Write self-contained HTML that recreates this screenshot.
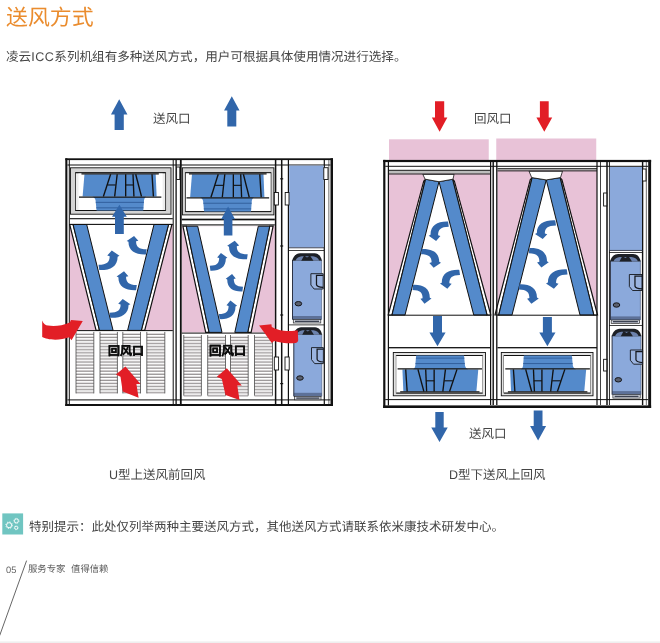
<!DOCTYPE html>
<html lang="zh-CN"><head><meta charset="utf-8"><title>送风方式</title>
<style>
html,body{margin:0;padding:0;background:#fff}
body{width:660px;height:643px;position:relative;overflow:hidden;font-family:"Liberation Sans",sans-serif;color:#454545;text-rendering:geometricPrecision}
.t{position:absolute;white-space:nowrap;line-height:1;margin:0;will-change:transform}
svg{position:absolute;left:0;top:0}
.lb{font-weight:bold;color:#0c0c0c;-webkit-text-stroke:0.3px #0c0c0c}
</style></head><body>
<svg width="660" height="643" viewBox="0 0 660 643">
<rect x="66" y="159" width="266" height="246" fill="#ffffff"/>
<rect x="69.8" y="224.5" width="103" height="105.9" fill="#e8c2d7"/>
<polygon points="86.7,224.5 154,224.5 127.6,330.4 113.1,330.4" fill="#ffffff"/>
<polygon points="69.7,224.5 73.1,224.5 99.5,330.4 96.1,330.4" fill="#ffffff" stroke="#111111" stroke-width="1.2"/>
<polygon points="171.9,224.5 168.5,224.5 141.3,330.4 144.7,330.4" fill="#ffffff" stroke="#111111" stroke-width="1.2"/>
<polygon points="73.1,224.5 86.7,224.5 113.1,330.4 99.5,330.4" fill="#548acb" stroke="#111111" stroke-width="1"/>
<polygon points="154,224.5 168.5,224.5 141.3,330.4 127.6,330.4" fill="#548acb" stroke="#111111" stroke-width="1"/>
<rect x="181.7" y="226.2" width="93.1" height="106.2" fill="#e8c2d7"/>
<polygon points="197.7,226.2 258.3,226.2 234.8,332.4 222,332.4" fill="#ffffff"/>
<polygon points="182.9,226.2 186.3,226.2 209.1,332.4 205.7,332.4" fill="#ffffff" stroke="#111111" stroke-width="1.2"/>
<polygon points="273.1,226.2 269.7,226.2 247.7,332.4 251.1,332.4" fill="#ffffff" stroke="#111111" stroke-width="1.2"/>
<polygon points="186.3,226.2 197.7,226.2 222,332.4 209.1,332.4" fill="#548acb" stroke="#111111" stroke-width="1"/>
<polygon points="258.3,226.2 269.7,226.2 247.7,332.4 234.8,332.4" fill="#548acb" stroke="#111111" stroke-width="1"/>
<rect x="76" y="331.9" width="17.8" height="61.5" fill="#fefefe"/>
<path d="M76,333.65 H93.8 M76,336.72 H93.8 M76,339.79 H93.8 M76,342.86 H93.8 M76,345.93 H93.8 M76,349 H93.8 M76,352.07 H93.8 M76,355.14 H93.8 M76,358.21 H93.8 M76,361.28 H93.8 M76,364.35 H93.8 M76,367.42 H93.8 M76,370.49 H93.8 M76,373.56 H93.8 M76,376.63 H93.8 M76,379.7 H93.8 M76,382.77 H93.8 M76,385.84 H93.8 M76,388.91 H93.8 M76,391.98 H93.8" fill="none" stroke="#d4d0d1" stroke-width="0.9"/>
<path d="M76,334.5 H93.8 M76,337.57 H93.8 M76,340.64 H93.8 M76,343.71 H93.8 M76,346.78 H93.8 M76,349.85 H93.8 M76,352.92 H93.8 M76,355.99 H93.8 M76,359.06 H93.8 M76,362.13 H93.8 M76,365.2 H93.8 M76,368.27 H93.8 M76,371.34 H93.8 M76,374.41 H93.8 M76,377.48 H93.8 M76,380.55 H93.8 M76,383.62 H93.8 M76,386.69 H93.8 M76,389.76 H93.8 M76,392.83 H93.8" fill="none" stroke="#7d797a" stroke-width="0.8"/>
<line x1="76" y1="331.9" x2="76" y2="393.4" stroke="#4a4a4a" stroke-width="0.8"/>
<line x1="93.8" y1="331.9" x2="93.8" y2="393.4" stroke="#4a4a4a" stroke-width="0.8"/>
<rect x="100" y="331.9" width="17.4" height="61.5" fill="#fefefe"/>
<path d="M100,333.65 H117.4 M100,336.72 H117.4 M100,339.79 H117.4 M100,342.86 H117.4 M100,345.93 H117.4 M100,349 H117.4 M100,352.07 H117.4 M100,355.14 H117.4 M100,358.21 H117.4 M100,361.28 H117.4 M100,364.35 H117.4 M100,367.42 H117.4 M100,370.49 H117.4 M100,373.56 H117.4 M100,376.63 H117.4 M100,379.7 H117.4 M100,382.77 H117.4 M100,385.84 H117.4 M100,388.91 H117.4 M100,391.98 H117.4" fill="none" stroke="#d4d0d1" stroke-width="0.9"/>
<path d="M100,334.5 H117.4 M100,337.57 H117.4 M100,340.64 H117.4 M100,343.71 H117.4 M100,346.78 H117.4 M100,349.85 H117.4 M100,352.92 H117.4 M100,355.99 H117.4 M100,359.06 H117.4 M100,362.13 H117.4 M100,365.2 H117.4 M100,368.27 H117.4 M100,371.34 H117.4 M100,374.41 H117.4 M100,377.48 H117.4 M100,380.55 H117.4 M100,383.62 H117.4 M100,386.69 H117.4 M100,389.76 H117.4 M100,392.83 H117.4" fill="none" stroke="#7d797a" stroke-width="0.8"/>
<line x1="100" y1="331.9" x2="100" y2="393.4" stroke="#4a4a4a" stroke-width="0.8"/>
<line x1="117.4" y1="331.9" x2="117.4" y2="393.4" stroke="#4a4a4a" stroke-width="0.8"/>
<rect x="122.8" y="331.9" width="17.7" height="61.5" fill="#fefefe"/>
<path d="M122.8,333.65 H140.5 M122.8,336.72 H140.5 M122.8,339.79 H140.5 M122.8,342.86 H140.5 M122.8,345.93 H140.5 M122.8,349 H140.5 M122.8,352.07 H140.5 M122.8,355.14 H140.5 M122.8,358.21 H140.5 M122.8,361.28 H140.5 M122.8,364.35 H140.5 M122.8,367.42 H140.5 M122.8,370.49 H140.5 M122.8,373.56 H140.5 M122.8,376.63 H140.5 M122.8,379.7 H140.5 M122.8,382.77 H140.5 M122.8,385.84 H140.5 M122.8,388.91 H140.5 M122.8,391.98 H140.5" fill="none" stroke="#d4d0d1" stroke-width="0.9"/>
<path d="M122.8,334.5 H140.5 M122.8,337.57 H140.5 M122.8,340.64 H140.5 M122.8,343.71 H140.5 M122.8,346.78 H140.5 M122.8,349.85 H140.5 M122.8,352.92 H140.5 M122.8,355.99 H140.5 M122.8,359.06 H140.5 M122.8,362.13 H140.5 M122.8,365.2 H140.5 M122.8,368.27 H140.5 M122.8,371.34 H140.5 M122.8,374.41 H140.5 M122.8,377.48 H140.5 M122.8,380.55 H140.5 M122.8,383.62 H140.5 M122.8,386.69 H140.5 M122.8,389.76 H140.5 M122.8,392.83 H140.5" fill="none" stroke="#7d797a" stroke-width="0.8"/>
<line x1="122.8" y1="331.9" x2="122.8" y2="393.4" stroke="#4a4a4a" stroke-width="0.8"/>
<line x1="140.5" y1="331.9" x2="140.5" y2="393.4" stroke="#4a4a4a" stroke-width="0.8"/>
<rect x="146.8" y="331.9" width="18" height="61.5" fill="#fefefe"/>
<path d="M146.8,333.65 H164.8 M146.8,336.72 H164.8 M146.8,339.79 H164.8 M146.8,342.86 H164.8 M146.8,345.93 H164.8 M146.8,349 H164.8 M146.8,352.07 H164.8 M146.8,355.14 H164.8 M146.8,358.21 H164.8 M146.8,361.28 H164.8 M146.8,364.35 H164.8 M146.8,367.42 H164.8 M146.8,370.49 H164.8 M146.8,373.56 H164.8 M146.8,376.63 H164.8 M146.8,379.7 H164.8 M146.8,382.77 H164.8 M146.8,385.84 H164.8 M146.8,388.91 H164.8 M146.8,391.98 H164.8" fill="none" stroke="#d4d0d1" stroke-width="0.9"/>
<path d="M146.8,334.5 H164.8 M146.8,337.57 H164.8 M146.8,340.64 H164.8 M146.8,343.71 H164.8 M146.8,346.78 H164.8 M146.8,349.85 H164.8 M146.8,352.92 H164.8 M146.8,355.99 H164.8 M146.8,359.06 H164.8 M146.8,362.13 H164.8 M146.8,365.2 H164.8 M146.8,368.27 H164.8 M146.8,371.34 H164.8 M146.8,374.41 H164.8 M146.8,377.48 H164.8 M146.8,380.55 H164.8 M146.8,383.62 H164.8 M146.8,386.69 H164.8 M146.8,389.76 H164.8 M146.8,392.83 H164.8" fill="none" stroke="#7d797a" stroke-width="0.8"/>
<line x1="146.8" y1="331.9" x2="146.8" y2="393.4" stroke="#4a4a4a" stroke-width="0.8"/>
<line x1="164.8" y1="331.9" x2="164.8" y2="393.4" stroke="#4a4a4a" stroke-width="0.8"/>
<rect x="183.75" y="335" width="17.65" height="60.6" fill="#fefefe"/>
<path d="M183.75,336.75 H201.4 M183.75,339.82 H201.4 M183.75,342.89 H201.4 M183.75,345.96 H201.4 M183.75,349.03 H201.4 M183.75,352.1 H201.4 M183.75,355.17 H201.4 M183.75,358.24 H201.4 M183.75,361.31 H201.4 M183.75,364.38 H201.4 M183.75,367.45 H201.4 M183.75,370.52 H201.4 M183.75,373.59 H201.4 M183.75,376.66 H201.4 M183.75,379.73 H201.4 M183.75,382.8 H201.4 M183.75,385.87 H201.4 M183.75,388.94 H201.4 M183.75,392.01 H201.4 M183.75,395.08 H201.4" fill="none" stroke="#d4d0d1" stroke-width="0.9"/>
<path d="M183.75,337.6 H201.4 M183.75,340.67 H201.4 M183.75,343.74 H201.4 M183.75,346.81 H201.4 M183.75,349.88 H201.4 M183.75,352.95 H201.4 M183.75,356.02 H201.4 M183.75,359.09 H201.4 M183.75,362.16 H201.4 M183.75,365.23 H201.4 M183.75,368.3 H201.4 M183.75,371.37 H201.4 M183.75,374.44 H201.4 M183.75,377.51 H201.4 M183.75,380.58 H201.4 M183.75,383.65 H201.4 M183.75,386.72 H201.4 M183.75,389.79 H201.4 M183.75,392.86 H201.4 M183.75,395.93 H201.4" fill="none" stroke="#7d797a" stroke-width="0.8"/>
<line x1="183.75" y1="335" x2="183.75" y2="395.6" stroke="#4a4a4a" stroke-width="0.8"/>
<line x1="201.4" y1="335" x2="201.4" y2="395.6" stroke="#4a4a4a" stroke-width="0.8"/>
<rect x="207.7" y="335" width="17.8" height="60.6" fill="#fefefe"/>
<path d="M207.7,336.75 H225.5 M207.7,339.82 H225.5 M207.7,342.89 H225.5 M207.7,345.96 H225.5 M207.7,349.03 H225.5 M207.7,352.1 H225.5 M207.7,355.17 H225.5 M207.7,358.24 H225.5 M207.7,361.31 H225.5 M207.7,364.38 H225.5 M207.7,367.45 H225.5 M207.7,370.52 H225.5 M207.7,373.59 H225.5 M207.7,376.66 H225.5 M207.7,379.73 H225.5 M207.7,382.8 H225.5 M207.7,385.87 H225.5 M207.7,388.94 H225.5 M207.7,392.01 H225.5 M207.7,395.08 H225.5" fill="none" stroke="#d4d0d1" stroke-width="0.9"/>
<path d="M207.7,337.6 H225.5 M207.7,340.67 H225.5 M207.7,343.74 H225.5 M207.7,346.81 H225.5 M207.7,349.88 H225.5 M207.7,352.95 H225.5 M207.7,356.02 H225.5 M207.7,359.09 H225.5 M207.7,362.16 H225.5 M207.7,365.23 H225.5 M207.7,368.3 H225.5 M207.7,371.37 H225.5 M207.7,374.44 H225.5 M207.7,377.51 H225.5 M207.7,380.58 H225.5 M207.7,383.65 H225.5 M207.7,386.72 H225.5 M207.7,389.79 H225.5 M207.7,392.86 H225.5 M207.7,395.93 H225.5" fill="none" stroke="#7d797a" stroke-width="0.8"/>
<line x1="207.7" y1="335" x2="207.7" y2="395.6" stroke="#4a4a4a" stroke-width="0.8"/>
<line x1="225.5" y1="335" x2="225.5" y2="395.6" stroke="#4a4a4a" stroke-width="0.8"/>
<rect x="230.5" y="335" width="17.7" height="60.6" fill="#fefefe"/>
<path d="M230.5,336.75 H248.2 M230.5,339.82 H248.2 M230.5,342.89 H248.2 M230.5,345.96 H248.2 M230.5,349.03 H248.2 M230.5,352.1 H248.2 M230.5,355.17 H248.2 M230.5,358.24 H248.2 M230.5,361.31 H248.2 M230.5,364.38 H248.2 M230.5,367.45 H248.2 M230.5,370.52 H248.2 M230.5,373.59 H248.2 M230.5,376.66 H248.2 M230.5,379.73 H248.2 M230.5,382.8 H248.2 M230.5,385.87 H248.2 M230.5,388.94 H248.2 M230.5,392.01 H248.2 M230.5,395.08 H248.2" fill="none" stroke="#d4d0d1" stroke-width="0.9"/>
<path d="M230.5,337.6 H248.2 M230.5,340.67 H248.2 M230.5,343.74 H248.2 M230.5,346.81 H248.2 M230.5,349.88 H248.2 M230.5,352.95 H248.2 M230.5,356.02 H248.2 M230.5,359.09 H248.2 M230.5,362.16 H248.2 M230.5,365.23 H248.2 M230.5,368.3 H248.2 M230.5,371.37 H248.2 M230.5,374.44 H248.2 M230.5,377.51 H248.2 M230.5,380.58 H248.2 M230.5,383.65 H248.2 M230.5,386.72 H248.2 M230.5,389.79 H248.2 M230.5,392.86 H248.2 M230.5,395.93 H248.2" fill="none" stroke="#7d797a" stroke-width="0.8"/>
<line x1="230.5" y1="335" x2="230.5" y2="395.6" stroke="#4a4a4a" stroke-width="0.8"/>
<line x1="248.2" y1="335" x2="248.2" y2="395.6" stroke="#4a4a4a" stroke-width="0.8"/>
<rect x="254.5" y="335" width="18" height="60.6" fill="#fefefe"/>
<path d="M254.5,336.75 H272.5 M254.5,339.82 H272.5 M254.5,342.89 H272.5 M254.5,345.96 H272.5 M254.5,349.03 H272.5 M254.5,352.1 H272.5 M254.5,355.17 H272.5 M254.5,358.24 H272.5 M254.5,361.31 H272.5 M254.5,364.38 H272.5 M254.5,367.45 H272.5 M254.5,370.52 H272.5 M254.5,373.59 H272.5 M254.5,376.66 H272.5 M254.5,379.73 H272.5 M254.5,382.8 H272.5 M254.5,385.87 H272.5 M254.5,388.94 H272.5 M254.5,392.01 H272.5 M254.5,395.08 H272.5" fill="none" stroke="#d4d0d1" stroke-width="0.9"/>
<path d="M254.5,337.6 H272.5 M254.5,340.67 H272.5 M254.5,343.74 H272.5 M254.5,346.81 H272.5 M254.5,349.88 H272.5 M254.5,352.95 H272.5 M254.5,356.02 H272.5 M254.5,359.09 H272.5 M254.5,362.16 H272.5 M254.5,365.23 H272.5 M254.5,368.3 H272.5 M254.5,371.37 H272.5 M254.5,374.44 H272.5 M254.5,377.51 H272.5 M254.5,380.58 H272.5 M254.5,383.65 H272.5 M254.5,386.72 H272.5 M254.5,389.79 H272.5 M254.5,392.86 H272.5 M254.5,395.93 H272.5" fill="none" stroke="#7d797a" stroke-width="0.8"/>
<line x1="254.5" y1="335" x2="254.5" y2="395.6" stroke="#4a4a4a" stroke-width="0.8"/>
<line x1="272.5" y1="335" x2="272.5" y2="395.6" stroke="#4a4a4a" stroke-width="0.8"/>
<rect x="69.8" y="330.1" width="103" height="1" fill="#111111"/>
<rect x="181.7" y="332.6" width="93.1" height="1" fill="#111111"/>
<rect x="70.5" y="167.8" width="100.5" height="46.4" fill="#d4d4d4" stroke="#111111" stroke-width="0.9"/>
<rect x="75.5" y="172.7" width="90.1" height="37.8" fill="#ededed" stroke="#333" stroke-width="0.9"/>
<rect x="78.5" y="172.7" width="84.1" height="37.8" fill="#ffffff"/>
<line x1="75.5" y1="172.7" x2="165.6" y2="172.7" stroke="#111111" stroke-width="1"/>
<line x1="75.5" y1="210.5" x2="165.6" y2="210.5" stroke="#111111" stroke-width="1"/>
<polygon points="84.47,174.21 155.7,174.21 156.63,196.51 82.62,196.51" fill="#548acb"/>
<path d="M92.38,196.51 L146.2,196.51 C144.52,197.65 143.93,199.16 143.93,202.18 L143.26,210.5 L96.58,210.5 L95.74,202.18 C95.74,199.16 94.9,197.65 92.38,196.51 Z" fill="#548acb"/>
<line x1="95.74" y1="202.37" x2="143.93" y2="202.37" stroke="#2a5592" stroke-width="0.8"/>
<line x1="96.16" y1="207.85" x2="143.43" y2="207.85" stroke="#2a5592" stroke-width="0.8"/>
<line x1="79" y1="197.08" x2="161.34" y2="197.08" stroke="#111111" stroke-width="1.2"/>
<line x1="81.44" y1="173.83" x2="158.82" y2="173.83" stroke="#111111" stroke-width="1.2"/>
<line x1="110.63" y1="174.21" x2="103.39" y2="196.51" stroke="#111111" stroke-width="1.35"/>
<line x1="117.19" y1="174.21" x2="114.66" y2="196.51" stroke="#111111" stroke-width="1.35"/>
<line x1="125.68" y1="174.21" x2="125.68" y2="196.51" stroke="#111111" stroke-width="1.35"/>
<line x1="133" y1="174.21" x2="133.92" y2="196.51" stroke="#111111" stroke-width="1.35"/>
<line x1="135.69" y1="174.21" x2="141.49" y2="196.51" stroke="#111111" stroke-width="1.35"/>
<line x1="152" y1="174.21" x2="153.43" y2="196.51" stroke="#111111" stroke-width="1.35"/>
<line x1="107.51" y1="184.98" x2="115.67" y2="184.98" stroke="#111111" stroke-width="1.1"/>
<line x1="125.68" y1="184.98" x2="133.59" y2="184.98" stroke="#111111" stroke-width="1.1"/>
<rect x="182.4" y="167.8" width="91.5" height="47.1" fill="#d4d4d4" stroke="#111111" stroke-width="0.9"/>
<rect x="185.4" y="172.7" width="85.6" height="38.9" fill="#ededed" stroke="#333" stroke-width="0.9"/>
<rect x="186" y="172.7" width="84.4" height="38.9" fill="#ffffff"/>
<line x1="185.4" y1="172.7" x2="271" y2="172.7" stroke="#111111" stroke-width="1"/>
<line x1="185.4" y1="211.6" x2="271" y2="211.6" stroke="#111111" stroke-width="1"/>
<polygon points="191.99,174.26 263.48,174.26 264.41,197.21 190.14,197.21" fill="#548acb"/>
<path d="M199.93,197.21 L253.94,197.21 C252.25,198.37 251.66,199.93 251.66,203.04 L250.99,211.6 L204.15,211.6 L203.3,203.04 C203.3,199.93 202.46,198.37 199.93,197.21 Z" fill="#548acb"/>
<line x1="203.3" y1="203.24" x2="251.66" y2="203.24" stroke="#2a5592" stroke-width="0.8"/>
<line x1="203.72" y1="208.88" x2="251.16" y2="208.88" stroke="#2a5592" stroke-width="0.8"/>
<line x1="186.51" y1="197.79" x2="269.13" y2="197.79" stroke="#111111" stroke-width="1.2"/>
<line x1="188.95" y1="173.87" x2="266.6" y2="173.87" stroke="#111111" stroke-width="1.2"/>
<line x1="218.24" y1="174.26" x2="210.98" y2="197.21" stroke="#111111" stroke-width="1.35"/>
<line x1="224.82" y1="174.26" x2="222.29" y2="197.21" stroke="#111111" stroke-width="1.35"/>
<line x1="233.35" y1="174.26" x2="233.35" y2="197.21" stroke="#111111" stroke-width="1.35"/>
<line x1="240.69" y1="174.26" x2="241.62" y2="197.21" stroke="#111111" stroke-width="1.35"/>
<line x1="243.39" y1="174.26" x2="249.22" y2="197.21" stroke="#111111" stroke-width="1.35"/>
<line x1="259.77" y1="174.26" x2="261.2" y2="197.21" stroke="#111111" stroke-width="1.35"/>
<line x1="215.12" y1="185.34" x2="223.3" y2="185.34" stroke="#111111" stroke-width="1.1"/>
<line x1="233.35" y1="185.34" x2="241.28" y2="185.34" stroke="#111111" stroke-width="1.1"/>
<rect x="69.8" y="218.15" width="103" height="1.1" fill="#111111"/>
<rect x="69.8" y="223.85" width="103" height="1.1" fill="#111111"/>
<rect x="181.7" y="218.65" width="93.1" height="1.7" fill="#111111"/>
<rect x="181.7" y="224.35" width="93.1" height="1.1" fill="#111111"/>
<rect x="65.3" y="158.3" width="2.1" height="247.7" fill="#111111"/>
<rect x="330.5" y="158.3" width="2.5" height="247.7" fill="#111111"/>
<rect x="65.3" y="158.3" width="267.7" height="1.8" fill="#111111"/>
<rect x="65.3" y="404" width="267.7" height="2" fill="#111111"/>
<rect x="67.4" y="164.5" width="263.1" height="1" fill="#111111"/>
<rect x="67.4" y="399.4" width="263.1" height="1" fill="#111111"/>
<rect x="68.8" y="160" width="1" height="244" fill="#111111"/>
<rect x="172.7" y="160" width="1" height="244" fill="#111111"/>
<rect x="175.45" y="160" width="1.3" height="244" fill="#111111"/>
<rect x="179.9" y="160" width="1.8" height="244" fill="#111111"/>
<rect x="274.85" y="160" width="1.5" height="244" fill="#111111"/>
<rect x="280.95" y="160" width="1.5" height="244" fill="#111111"/>
<rect x="287.8" y="160" width="1.2" height="244" fill="#111111"/>
<rect x="323.7" y="160" width="1.2" height="244" fill="#111111"/>
<rect x="328.6" y="160" width="0.6" height="244" fill="#111111"/>
<rect x="280.2" y="178.2" width="3" height="1.2" fill="#111111"/>
<rect x="280.2" y="245.4" width="3" height="1.2" fill="#111111"/>
<rect x="280.2" y="314.4" width="3" height="1.2" fill="#111111"/>
<rect x="280.2" y="383" width="3" height="1.2" fill="#111111"/>
<polygon points="119.2,99.2 127.45,114.5 123.8,114.5 123.8,130 114.6,130 114.6,114.5 110.95,114.5" fill="#3166aa"/>
<polygon points="231.8,96.2 239.55,110.5 236.3,110.5 236.3,126.5 227.3,126.5 227.3,110.5 224.05,110.5" fill="#3166aa"/>
<polygon points="119.4,204.8 126.8,216.8 123.8,216.8 123.8,234.1 115,234.1 115,216.8 112,216.8" fill="#3166aa"/>
<polygon points="228.1,206.5 235,219.3 232.4,219.3 232.4,235.5 223.8,235.5 223.8,219.3 221.2,219.3" fill="#3166aa"/>
<path d="M12.9,0 L8.5,4.9 L10.85,5.5 C10.85,11 8.2,13.8 0,13.8 L0.7,19 C11.15,19.4 18.6,15.7 18.6,6 L20.4,5.2 Z" fill="#3166aa" transform="translate(146.7,235.9) scale(-0.9804,0.9742)"/>
<path d="M12.9,0 L8.5,4.9 L10.85,5.5 C10.85,11 8.2,13.8 0,13.8 L0.7,19 C11.15,19.4 18.6,15.7 18.6,6 L20.4,5.2 Z" fill="#3166aa" transform="translate(98.5,250.5) scale(1.0294,1.0309)"/>
<path d="M12.9,0 L8.5,4.9 L10.85,5.5 C10.85,11 8.2,13.8 0,13.8 L0.7,19 C11.15,19.4 18.6,15.7 18.6,6 L20.4,5.2 Z" fill="#3166aa" transform="translate(136.8,271.3) scale(-0.9902,1.0000)"/>
<path d="M12.9,0 L8.5,4.9 L10.85,5.5 C10.85,11 8.2,13.8 0,13.8 L0.7,19 C11.15,19.4 18.6,15.7 18.6,6 L20.4,5.2 Z" fill="#3166aa" transform="translate(109.5,299) scale(1.0245,0.9897)"/>
<path d="M12.9,0 L8.5,4.9 L10.85,5.5 C10.85,11 8.2,13.8 0,13.8 L0.7,19 C11.15,19.4 18.6,15.7 18.6,6 L20.4,5.2 Z" fill="#3166aa" transform="translate(247.7,240.8) scale(-1.0049,0.9742)"/>
<path d="M12.9,0 L8.5,4.9 L10.85,5.5 C10.85,11 8.2,13.8 0,13.8 L0.7,19 C11.15,19.4 18.6,15.7 18.6,6 L20.4,5.2 Z" fill="#3166aa" transform="translate(209.8,252.9) scale(0.8627,0.9330)"/>
<path d="M12.9,0 L8.5,4.9 L10.85,5.5 C10.85,11 8.2,13.8 0,13.8 L0.7,19 C11.15,19.4 18.6,15.7 18.6,6 L20.4,5.2 Z" fill="#3166aa" transform="translate(243,273.9) scale(-0.8480,0.9227)"/>
<path d="M12.9,0 L8.5,4.9 L10.85,5.5 C10.85,11 8.2,13.8 0,13.8 L0.7,19 C11.15,19.4 18.6,15.7 18.6,6 L20.4,5.2 Z" fill="#3166aa" transform="translate(218.9,300.6) scale(0.8922,0.9742)"/>
<path d="M42.2,320.5 C43.5,324 45.5,325.3 48,325.6 C53,326.6 62,326.2 69.8,322.6 L71,320 L82.8,321 L71.5,340.2 L69.2,337.3 C62,340 53,340.3 47.5,338.8 C45.5,338.3 43.5,337.8 42.2,337 Z" fill="#e21e26"/>
<polygon points="125.5,366.4 140.5,384.1 136.4,384.1 138.6,397.7 122.7,391.4 120.5,376.8 115.9,374.5" fill="#e21e26"/>
<polygon points="226.8,368.2 241.8,385.5 237.3,385.5 239.5,400 225.5,395 221.8,379.1 216.8,376.8" fill="#e21e26"/>
<rect x="289.2" y="165.6" width="34.5" height="81.8" fill="#8ba9db"/>
<rect x="289" y="247.35" width="35" height="0.9" fill="#2b3245"/>
<rect x="289" y="250.2" width="35" height="0.8" fill="#111111"/>
<rect x="289" y="324.5" width="35" height="0.8" fill="#111111"/>
<rect x="292.5" y="260.4" width="29.1" height="59.2" fill="#8ba9db"/>
<rect x="292.5" y="316" width="29.1" height="3.6" fill="#5d7198"/>
<line x1="292.5" y1="259.9" x2="292.5" y2="319.6" stroke="#2b3245" stroke-width="1"/>
<line x1="321.6" y1="259.9" x2="321.6" y2="319.6" stroke="#4b5a7a" stroke-width="0.6"/>
<path d="M292.2,260.7 C293.08,256.4 295.99,253.4 300.07,253.2 L314.62,253.2 C318.69,253.4 321.02,256.4 321.9,260.7 Z" fill="#1d2026"/>
<path d="M295.41,260.7 C296.57,257.8 298.9,256.4 301.81,256.2 L312.87,256.2 C315.78,256.4 318.11,257.8 319.27,260.7 Z" fill="#6c82ad"/>
<path d="M301.23,260.7 L304.14,255.4 L307.05,257.4 L309.96,255.4 L313.45,260.7 Z" fill="#1d2026"/>
<rect x="293.3" y="319.6" width="27.5" height="3.4" fill="#d9dde6" stroke="#2a2a2a" stroke-width="0.7"/>
<rect x="295" y="320.6" width="24.1" height="1.4" fill="#3c4252"/>
<path d="M323.2,273.7 L310.89,273.7 L310.89,285 L314.09,289 L323.2,289 Z" fill="#9bb4e0" stroke="#14171d" stroke-width="0.9"/>
<path d="M323.2,275.3 L316.49,275.3 L316.49,284.6 C316.69,286.4 318.39,287 323.2,287.4" fill="none" stroke="#14171d" stroke-width="1.25"/>
<ellipse cx="298.4" cy="303.7" rx="3.3" ry="2.2" fill="#5a6070" stroke="#15171c" stroke-width="1.0"/>
<rect x="293.8" y="334.4" width="28" height="62" fill="#8ba9db"/>
<rect x="293.8" y="392.8" width="28" height="3.6" fill="#5d7198"/>
<line x1="293.8" y1="333.9" x2="293.8" y2="396.4" stroke="#2b3245" stroke-width="1"/>
<line x1="321.8" y1="333.9" x2="321.8" y2="396.4" stroke="#4b5a7a" stroke-width="0.6"/>
<path d="M293.5,334.7 C294.36,330.4 297.16,327.4 301.08,327.2 L315.08,327.2 C319,327.4 321.24,330.4 322.1,334.7 Z" fill="#1d2026"/>
<path d="M296.6,334.7 C297.72,331.8 299.96,330.4 302.76,330.2 L313.4,330.2 C316.2,330.4 318.44,331.8 319.56,334.7 Z" fill="#6c82ad"/>
<path d="M302.2,334.7 L305,329.4 L307.8,331.4 L310.6,329.4 L313.96,334.7 Z" fill="#1d2026"/>
<rect x="294.6" y="396.4" width="26.4" height="3.4" fill="#d9dde6" stroke="#2a2a2a" stroke-width="0.7"/>
<rect x="296.3" y="397.4" width="23" height="1.4" fill="#3c4252"/>
<path d="M323.4,347.6 L311.5,347.6 L311.5,359.6 L314.7,363.6 L323.4,363.6 Z" fill="#9bb4e0" stroke="#14171d" stroke-width="0.9"/>
<path d="M323.4,349.2 L317.1,349.2 L317.1,359.2 C317.3,361 319,361.6 323.4,362" fill="none" stroke="#14171d" stroke-width="1.25"/>
<ellipse cx="300" cy="378" rx="3.3" ry="2.2" fill="#5a6070" stroke="#15171c" stroke-width="1.0"/>
<rect x="274.3" y="192.5" width="4.1" height="12.5" fill="#ffffff" stroke="#111111" stroke-width="0.9"/>
<rect x="285.2" y="192.5" width="3.8" height="12.5" fill="#ffffff" stroke="#111111" stroke-width="0.9"/>
<rect x="323.8" y="167.7" width="4.2" height="11.8" fill="#ffffff" stroke="#111111" stroke-width="0.9"/>
<rect x="176.6" y="167" width="3.2" height="12.5" fill="#ffffff" stroke="#111111" stroke-width="0.9"/>
<rect x="274.3" y="357" width="4.3" height="13" fill="#ffffff" stroke="#111111" stroke-width="0.9"/>
<rect x="285" y="357" width="4.2" height="13" fill="#ffffff" stroke="#111111" stroke-width="0.9"/>
<path d="M259.1,325.5 L271.4,324.3 L271.8,327 C276,329.5 283,331.3 290,331.1 C293,331 295.5,330.6 297.7,330.2 L298.2,340.2 C297.8,342 296.8,342.7 295.5,342.9 C290,343.5 282,343.2 274.1,340.9 L271.8,342.9 Z" fill="#e21e26"/>
<rect x="389" y="139.3" width="99.75" height="20.7" fill="#e8c2d7"/>
<rect x="496.25" y="138.5" width="100" height="21.5" fill="#e8c2d7"/>
<rect x="384" y="161" width="266" height="245" fill="#ffffff"/>
<rect x="388.6" y="171" width="101.4" height="144" fill="#e8c2d7"/>
<polygon points="425.6,179.2 452.5,179.2 487,315 392,315" fill="#ffffff"/>
<polygon points="423.7,181.2 425.6,179.2 392,315 388.2,315" fill="#ffffff" stroke="#111111" stroke-width="1.2"/>
<polygon points="454.4,181.2 452.5,179.2 487,315 490.8,315" fill="#ffffff" stroke="#111111" stroke-width="1.2"/>
<polygon points="425.6,179.2 439,181.7 405,315 392,315" fill="#548acb" stroke="#111111" stroke-width="1"/>
<polygon points="439,181.7 452.5,179.2 487,315 473.75,315" fill="#548acb" stroke="#111111" stroke-width="1"/>
<polygon points="422.8,174.3 454.1,174.3 453,179.2 439,181.7 425.1,179.2" fill="#ffffff" stroke="#111111" stroke-width="0.8"/>
<rect x="497.5" y="170" width="99.5" height="145" fill="#e8c2d7"/>
<polygon points="532.2,177.6 560,177.6 593.75,315 498.75,315" fill="#ffffff"/>
<polygon points="530.3,179.6 532.2,177.6 498.75,315 494.95,315" fill="#ffffff" stroke="#111111" stroke-width="1.2"/>
<polygon points="561.9,179.6 560,177.6 593.75,315 597.55,315" fill="#ffffff" stroke="#111111" stroke-width="1.2"/>
<polygon points="532.2,177.6 546.25,179.9 512,315 498.75,315" fill="#548acb" stroke="#111111" stroke-width="1"/>
<polygon points="546.25,179.9 560,177.6 593.75,315 580,315" fill="#548acb" stroke="#111111" stroke-width="1"/>
<polygon points="529,171.2 562.5,171.2 560.5,177.6 546.25,179.9 531.7,177.6" fill="#ffffff" stroke="#111111" stroke-width="0.8"/>
<rect x="388.6" y="314.7" width="101.4" height="1" fill="#111111"/>
<rect x="497.5" y="314.7" width="99.5" height="1" fill="#111111"/>
<g transform="translate(878.8,748.3) scale(-1,-1)"><rect x="393.3" y="352.5" width="92.2" height="43.3" fill="#e2e2e2" stroke="#111111" stroke-width="0.9"/>
<rect x="396.3" y="355.3" width="86.2" height="37.5" fill="#ededed" stroke="#333" stroke-width="0.9"/>
<rect x="396.3" y="355.3" width="86.2" height="37.5" fill="#ffffff"/>
<line x1="396.3" y1="355.3" x2="482.5" y2="355.3" stroke="#111111" stroke-width="1"/>
<line x1="396.3" y1="392.8" x2="482.5" y2="392.8" stroke="#111111" stroke-width="1"/>
<polygon points="402.42,356.8 475.43,356.8 476.38,378.92 400.52,378.92" fill="#548acb"/>
<path d="M410.52,378.92 L465.69,378.92 C463.97,380.05 463.36,381.55 463.36,384.55 L462.67,392.8 L414.83,392.8 L413.97,384.55 C413.97,381.55 413.11,380.05 410.52,378.92 Z" fill="#548acb"/>
<line x1="413.97" y1="384.74" x2="463.36" y2="384.74" stroke="#2a5592" stroke-width="0.8"/>
<line x1="414.4" y1="390.17" x2="462.85" y2="390.17" stroke="#2a5592" stroke-width="0.8"/>
<line x1="396.82" y1="379.49" x2="481.21" y2="379.49" stroke="#111111" stroke-width="1.2"/>
<line x1="399.32" y1="356.42" x2="478.62" y2="356.42" stroke="#111111" stroke-width="1.2"/>
<line x1="429.23" y1="356.8" x2="421.82" y2="378.92" stroke="#111111" stroke-width="1.35"/>
<line x1="435.95" y1="356.8" x2="433.37" y2="378.92" stroke="#111111" stroke-width="1.35"/>
<line x1="444.66" y1="356.8" x2="444.66" y2="378.92" stroke="#111111" stroke-width="1.35"/>
<line x1="452.16" y1="356.8" x2="453.11" y2="378.92" stroke="#111111" stroke-width="1.35"/>
<line x1="454.92" y1="356.8" x2="460.86" y2="378.92" stroke="#111111" stroke-width="1.35"/>
<line x1="471.64" y1="356.8" x2="473.1" y2="378.92" stroke="#111111" stroke-width="1.35"/>
<line x1="426.04" y1="367.49" x2="434.4" y2="367.49" stroke="#111111" stroke-width="1.1"/>
<line x1="444.66" y1="367.49" x2="452.76" y2="367.49" stroke="#111111" stroke-width="1.1"/></g>
<g transform="translate(1094.4,748.3) scale(-1,-1)"><rect x="501.4" y="352.5" width="91.7" height="43.3" fill="#e2e2e2" stroke="#111111" stroke-width="0.9"/>
<rect x="504" y="355.3" width="86.4" height="37.5" fill="#ededed" stroke="#333" stroke-width="0.9"/>
<rect x="504" y="355.3" width="86.4" height="37.5" fill="#ffffff"/>
<line x1="504" y1="355.3" x2="590.4" y2="355.3" stroke="#111111" stroke-width="1"/>
<line x1="504" y1="392.8" x2="590.4" y2="392.8" stroke="#111111" stroke-width="1"/>
<polygon points="510.13,356.8 583.32,356.8 584.27,378.92 508.23,378.92" fill="#548acb"/>
<path d="M518.26,378.92 L573.55,378.92 C571.82,380.05 571.22,381.55 571.22,384.55 L570.53,392.8 L522.58,392.8 L521.71,384.55 C521.71,381.55 520.85,380.05 518.26,378.92 Z" fill="#548acb"/>
<line x1="521.71" y1="384.74" x2="571.22" y2="384.74" stroke="#2a5592" stroke-width="0.8"/>
<line x1="522.14" y1="390.17" x2="570.7" y2="390.17" stroke="#2a5592" stroke-width="0.8"/>
<line x1="504.52" y1="379.49" x2="589.1" y2="379.49" stroke="#111111" stroke-width="1.2"/>
<line x1="507.02" y1="356.42" x2="586.51" y2="356.42" stroke="#111111" stroke-width="1.2"/>
<line x1="537" y1="356.8" x2="529.57" y2="378.92" stroke="#111111" stroke-width="1.35"/>
<line x1="543.74" y1="356.8" x2="541.15" y2="378.92" stroke="#111111" stroke-width="1.35"/>
<line x1="552.47" y1="356.8" x2="552.47" y2="378.92" stroke="#111111" stroke-width="1.35"/>
<line x1="559.99" y1="356.8" x2="560.94" y2="378.92" stroke="#111111" stroke-width="1.35"/>
<line x1="562.75" y1="356.8" x2="568.71" y2="378.92" stroke="#111111" stroke-width="1.35"/>
<line x1="579.51" y1="356.8" x2="580.98" y2="378.92" stroke="#111111" stroke-width="1.35"/>
<line x1="533.81" y1="367.49" x2="542.19" y2="367.49" stroke="#111111" stroke-width="1.1"/>
<line x1="552.47" y1="367.49" x2="560.59" y2="367.49" stroke="#111111" stroke-width="1.1"/></g>
<rect x="388.6" y="347.05" width="101.4" height="1.3" fill="#111111"/>
<rect x="388.6" y="170.8" width="101.4" height="2.9" fill="#bdbdbd"/>
<rect x="388.6" y="173.55" width="101.4" height="0.9" fill="#111111"/>
<rect x="388.6" y="169.8" width="101.4" height="1" fill="#111111"/>
<rect x="497.5" y="347.05" width="99.5" height="1.3" fill="#111111"/>
<rect x="497.5" y="169.2" width="99.5" height="1.4" fill="#bdbdbd"/>
<rect x="497.5" y="170.45" width="99.5" height="0.9" fill="#111111"/>
<rect x="497.5" y="168.2" width="99.5" height="1" fill="#111111"/>
<rect x="383.2" y="159.9" width="2.2" height="248.1" fill="#111111"/>
<rect x="648.2" y="159.9" width="2.9" height="248.1" fill="#111111"/>
<rect x="383.2" y="159.9" width="267.9" height="2.2" fill="#111111"/>
<rect x="383.2" y="405.4" width="267.9" height="2.6" fill="#111111"/>
<rect x="385.2" y="165.8" width="263" height="1" fill="#111111"/>
<rect x="385.2" y="399.1" width="263" height="1" fill="#111111"/>
<rect x="387.8" y="162" width="1.2" height="243.5" fill="#111111"/>
<rect x="490" y="162" width="1.2" height="243" fill="#111111"/>
<rect x="492.5" y="162" width="1.4" height="243" fill="#111111"/>
<rect x="496.15" y="162" width="1.3" height="243" fill="#111111"/>
<rect x="596.4" y="162" width="1.2" height="243" fill="#111111"/>
<rect x="600.1" y="162" width="0.8" height="243" fill="#111111"/>
<rect x="606.25" y="162" width="1.5" height="243" fill="#111111"/>
<rect x="608.95" y="162" width="0.9" height="243" fill="#111111"/>
<rect x="641.9" y="162" width="1.4" height="243" fill="#111111"/>
<rect x="645.9" y="162" width="0.6" height="243" fill="#111111"/>
<polygon points="437.5,346.3 445.6,332.5 442,332.5 442,316 433,316 433,332.5 429.4,332.5" fill="#3166aa"/>
<polygon points="547.4,346.3 555.5,332.5 551.9,332.5 551.9,317 542.9,317 542.9,332.5 539.3,332.5" fill="#3166aa"/>
<polygon points="439.5,442 447.75,427.5 443.7,427.5 443.7,412 435.3,412 435.3,427.5 431.25,427.5" fill="#3166aa"/>
<polygon points="538.1,440.5 546.1,426 542.5,426 542.5,410.5 533.7,410.5 533.7,426 530.1,426" fill="#3166aa"/>
<polygon points="439.6,131.8 447.35,117.5 444.2,117.5 444.2,101.2 435,101.2 435,117.5 431.85,117.5" fill="#e21e26"/>
<polygon points="544.3,131.8 552.2,117.5 548.7,117.5 548.7,101.2 539.9,101.2 539.9,117.5 536.4,117.5" fill="#e21e26"/>
<path d="M12.9,0 L8.5,4.9 L10.85,5.5 C10.85,11 8.2,13.8 0,13.8 L0.7,19 C11.15,19.4 18.6,15.7 18.6,6 L20.4,5.2 Z" fill="#3166aa" transform="translate(448.75,241) scale(-0.9804,-1.0309)"/>
<path d="M12.9,0 L8.5,4.9 L10.85,5.5 C10.85,11 8.2,13.8 0,13.8 L0.7,19 C11.15,19.4 18.6,15.7 18.6,6 L20.4,5.2 Z" fill="#3166aa" transform="translate(421,267.75) scale(0.9804,-0.9794)"/>
<path d="M12.9,0 L8.5,4.9 L10.85,5.5 C10.85,11 8.2,13.8 0,13.8 L0.7,19 C11.15,19.4 18.6,15.7 18.6,6 L20.4,5.2 Z" fill="#3166aa" transform="translate(460,288.7) scale(-0.9804,-0.9897)"/>
<path d="M12.9,0 L8.5,4.9 L10.85,5.5 C10.85,11 8.2,13.8 0,13.8 L0.7,19 C11.15,19.4 18.6,15.7 18.6,6 L20.4,5.2 Z" fill="#3166aa" transform="translate(412.5,303.7) scale(0.9314,-0.9897)"/>
<path d="M12.9,0 L8.5,4.9 L10.85,5.5 C10.85,11 8.2,13.8 0,13.8 L0.7,19 C11.15,19.4 18.6,15.7 18.6,6 L20.4,5.2 Z" fill="#3166aa" transform="translate(556,239) scale(-1.0294,-0.9794)"/>
<path d="M12.9,0 L8.5,4.9 L10.85,5.5 C10.85,11 8.2,13.8 0,13.8 L0.7,19 C11.15,19.4 18.6,15.7 18.6,6 L20.4,5.2 Z" fill="#3166aa" transform="translate(528.75,267.5) scale(0.9804,-1.0309)"/>
<path d="M12.9,0 L8.5,4.9 L10.85,5.5 C10.85,11 8.2,13.8 0,13.8 L0.7,19 C11.15,19.4 18.6,15.7 18.6,6 L20.4,5.2 Z" fill="#3166aa" transform="translate(567.5,288.75) scale(-1.0539,-1.0309)"/>
<path d="M12.9,0 L8.5,4.9 L10.85,5.5 C10.85,11 8.2,13.8 0,13.8 L0.7,19 C11.15,19.4 18.6,15.7 18.6,6 L20.4,5.2 Z" fill="#3166aa" transform="translate(518.75,303.75) scale(0.9804,-1.0309)"/>
<rect x="609.8" y="167" width="32.2" height="83" fill="#8ba9db"/>
<rect x="609" y="249.95" width="33.6" height="0.9" fill="#2b3245"/>
<rect x="609" y="252" width="33.6" height="0.8" fill="#111111"/>
<rect x="609" y="325" width="33.6" height="0.8" fill="#111111"/>
<rect x="610.4" y="261.1" width="30" height="58.9" fill="#8ba9db"/>
<rect x="610.4" y="316.4" width="30" height="3.6" fill="#5d7198"/>
<line x1="610.4" y1="260.6" x2="610.4" y2="320" stroke="#2b3245" stroke-width="1"/>
<line x1="640.4" y1="260.6" x2="640.4" y2="320" stroke="#4b5a7a" stroke-width="0.6"/>
<path d="M610.1,261.4 C611,257.1 614,254.1 618.2,253.9 L633.2,253.9 C637.4,254.1 639.8,257.1 640.7,261.4 Z" fill="#1d2026"/>
<path d="M613.4,261.4 C614.6,258.5 617,257.1 620,256.9 L631.4,256.9 C634.4,257.1 636.8,258.5 638,261.4 Z" fill="#6c82ad"/>
<path d="M619.4,261.4 L622.4,256.1 L625.4,258.1 L628.4,256.1 L632,261.4 Z" fill="#1d2026"/>
<rect x="611.2" y="320" width="28.4" height="3.4" fill="#d9dde6" stroke="#2a2a2a" stroke-width="0.7"/>
<rect x="612.9" y="321" width="25" height="1.4" fill="#3c4252"/>
<path d="M642,274.5 L629.36,274.5 L629.36,286.5 L632.56,290.5 L642,290.5 Z" fill="#9bb4e0" stroke="#14171d" stroke-width="0.9"/>
<path d="M642,276.1 L634.96,276.1 L634.96,286.1 C635.16,287.9 636.86,288.5 642,288.9" fill="none" stroke="#14171d" stroke-width="1.25"/>
<ellipse cx="616.5" cy="305" rx="3.3" ry="2.2" fill="#5a6070" stroke="#15171c" stroke-width="1.0"/>
<rect x="612.1" y="335.9" width="28.9" height="58.8" fill="#8ba9db"/>
<rect x="612.1" y="391.1" width="28.9" height="3.6" fill="#5d7198"/>
<line x1="612.1" y1="335.4" x2="612.1" y2="394.7" stroke="#2b3245" stroke-width="1"/>
<line x1="641" y1="335.4" x2="641" y2="394.7" stroke="#4b5a7a" stroke-width="0.6"/>
<path d="M611.8,336.2 C612.68,331.9 615.57,328.9 619.61,328.7 L634.06,328.7 C638.11,328.9 640.42,331.9 641.3,336.2 Z" fill="#1d2026"/>
<path d="M614.99,336.2 C616.15,333.3 618.46,331.9 621.35,331.7 L632.33,331.7 C635.22,331.9 637.53,333.3 638.69,336.2 Z" fill="#6c82ad"/>
<path d="M620.77,336.2 L623.66,330.9 L626.55,332.9 L629.44,330.9 L632.91,336.2 Z" fill="#1d2026"/>
<rect x="612.9" y="394.7" width="27.3" height="3.4" fill="#d9dde6" stroke="#2a2a2a" stroke-width="0.7"/>
<rect x="614.6" y="395.7" width="23.9" height="1.4" fill="#3c4252"/>
<path d="M642.6,350 L630.36,350 L630.36,360.2 L633.56,364.2 L642.6,364.2 Z" fill="#9bb4e0" stroke="#14171d" stroke-width="0.9"/>
<path d="M642.6,351.6 L635.96,351.6 L635.96,359.8 C636.16,361.6 637.86,362.2 642.6,362.6" fill="none" stroke="#14171d" stroke-width="1.25"/>
<ellipse cx="618.3" cy="379.8" rx="3.3" ry="2.2" fill="#5a6070" stroke="#15171c" stroke-width="1.0"/>
<rect x="603.6" y="193" width="3.2" height="13" fill="#ffffff" stroke="#111111" stroke-width="0.9"/>
<rect x="642.5" y="169" width="3.5" height="12" fill="#ffffff" stroke="#111111" stroke-width="0.9"/>
<rect x="603.6" y="359.3" width="3.2" height="11.7" fill="#ffffff" stroke="#111111" stroke-width="0.9"/>
<!-- tip icon -->
<rect x="2.3" y="513.4" width="20.8" height="21.1" fill="#70c5c1"/>
<g fill="none" stroke="#ffffff">
<circle cx="9.1" cy="525.2" r="2.55" stroke-width="0.95"/>
<circle cx="9.1" cy="525.2" r="3.3" stroke-width="0.9" stroke-dasharray="1.15 1.44"/>
<circle cx="16.4" cy="520.9" r="1.95" stroke-width="0.85"/>
<circle cx="16.4" cy="520.9" r="2.6" stroke-width="0.8" stroke-dasharray="0.95 1.09"/>
<circle cx="16.2" cy="527.8" r="1.55" stroke-width="0.85"/>
<circle cx="16.2" cy="527.8" r="2.05" stroke-width="0.5" stroke-dasharray="0.75 0.86"/>
</g>
<!-- footer -->
<line x1="26.6" y1="560.6" x2="-0.4" y2="635.7" stroke="#4a4a4a" stroke-width="0.85"/>
<rect x="0" y="641.4" width="660" height="1.6" fill="#efefef"/>
</svg>
<h1 class="t" style="left:6.3px;top:6.7px;font-size:21.9px;font-weight:normal;color:#ea8c2e">送风方式</h1>
<p class="t" style="left:5.6px;top:51.2px;font-size:12.58px">凌云<span style="letter-spacing:0.5px">ICC</span>系列机组有多种送风方式，用户可根据具体使用情况进行选择。</p>
<div class="t" style="left:153.2px;top:113.2px;font-size:12.5px">送风口</div>
<div class="t lb" style="left:107.5px;top:345px;font-size:12px">回风口</div>
<div class="t lb" style="left:208.5px;top:344.5px;font-size:12.4px">回风口</div>
<div class="t" style="left:108.5px;top:469px;font-size:12.5px">U型上送风前回风</div>
<div class="t" style="left:473.6px;top:112.9px;font-size:12.5px">回风口</div>
<div class="t" style="left:468.6px;top:428.3px;font-size:12.5px">送风口</div>
<div class="t" style="left:449px;top:468.8px;font-size:12.5px">D型下送风上回风</div>
<p class="t" style="left:28.9px;top:521.4px;font-size:12.5px">特别提示：此处仅列举两种主要送风方式，其他送风方式请联系依米康技术研发中心。</p>
<div class="t" style="left:5.8px;top:565.6px;font-size:9.3px;color:#666">05</div>
<div class="t" style="left:28.2px;top:564.9px;font-size:9.35px;color:#5a5a5a">服务专家<span style="display:inline-block;width:5.7px"></span>值得信赖</div>
</body></html>
